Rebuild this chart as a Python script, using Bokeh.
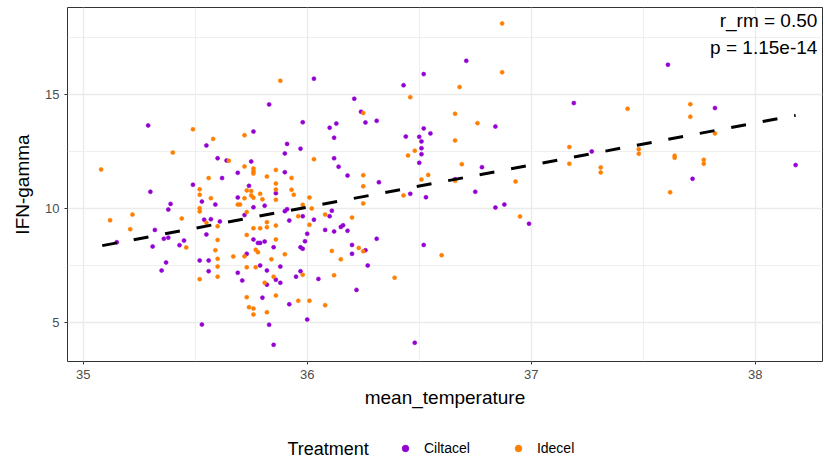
from bokeh.plotting import figure
from bokeh.models import Range1d, FixedTicker, Legend, LegendItem, Label
from bokeh.layouts import column
from bokeh.embed import file_html
from bokeh.resources import INLINE

# ---- data ----
cilta_temp = [35.29, 35.55, 35.60, 35.64, 35.62, 35.49, 35.30, 35.53, 35.59, 35.39,
              35.38, 35.32, 35.36, 35.38, 35.31, 35.45, 35.43, 35.37, 35.35, 35.15,
              35.54, 35.57, 35.61, 35.55, 35.52, 35.56, 35.56, 35.53, 35.83, 35.98,
              35.76, 35.91, 35.97, 35.90, 35.75, 35.69, 35.90, 35.74, 35.69, 35.86,
              35.76, 35.81, 35.91, 35.90, 35.72, 36.03, 35.92, 35.98, 36.03, 36.00,
              35.99, 35.97, 35.98, 35.76, 35.78, 35.79, 35.81, 35.85, 35.73, 35.79,
              35.88, 35.82, 35.69, 35.71, 35.86, 35.88, 35.82, 35.95, 35.97, 36.05,
              35.80, 35.92, 36.00, 35.83, 35.85, 36.52, 36.43, 36.21, 36.24, 36.26,
              36.31, 36.10, 36.13, 36.12, 36.44, 36.50, 36.52, 36.55, 36.51, 36.51,
              36.51, 36.50, 36.12, 36.14, 36.18, 36.32, 36.46, 36.53, 36.11, 36.10,
              36.71, 36.84, 36.78, 36.75, 36.66, 36.84, 36.88, 36.99, 36.08, 36.12,
              36.15, 36.16, 36.18, 36.31, 36.20, 36.20, 36.26, 36.27, 36.52, 36.22,
              36.48, 37.61, 37.19, 37.82, 37.27, 37.72, 38.18]
cilta_ifng = [13.63, 12.75, 12.19, 12.09, 11.32, 11.03, 10.72, 10.29, 10.16, 10.19,
              9.94, 9.05, 8.66, 8.71, 8.32, 8.58, 8.38, 7.62, 7.27, 8.51,
              9.50, 9.52, 9.42, 8.85, 7.71, 7.71, 7.24, 4.90, 14.55, 13.77,
              13.36, 12.82, 12.61, 12.40, 12.05, 11.55, 11.58, 10.98, 10.47, 10.66,
              10.04, 10.11, 9.96, 9.87, 9.70, 15.68, 9.46, 9.65, 9.50, 8.88,
              8.55, 8.29, 8.22, 8.63, 8.48, 8.48, 8.54, 8.29, 8.00, 7.49,
              7.44, 7.27, 7.17, 6.83, 6.86, 6.73, 6.65, 7.00, 7.24, 6.90,
              6.08, 5.79, 5.12, 4.89, 4.01, 15.88, 15.39, 14.80, 14.23, 13.76,
              13.83, 13.53, 13.71, 13.09, 13.14, 13.13, 13.50, 13.28, 12.93, 12.63,
              12.37, 11.99, 12.19, 11.82, 11.43, 11.14, 10.63, 10.48, 9.89, 9.65,
              16.46, 13.58, 11.80, 10.72, 11.27, 10.03, 10.16, 9.32, 9.05, 8.98,
              9.18, 9.25, 9.01, 8.66, 8.39, 8.00, 8.16, 7.49, 8.39, 6.42,
              4.10, 16.29, 14.61, 14.39, 12.49, 11.29, 11.89]

ide_temp = [35.88, 35.49, 35.58, 35.72, 35.40, 35.65, 36.03, 35.08, 35.72, 35.76,
            35.76, 35.76, 35.86, 35.82, 35.93, 35.56, 35.86, 35.52, 35.73, 35.75,
            35.79, 35.86, 35.93, 35.94, 35.52, 35.57, 35.72, 35.75, 35.76, 35.80,
            35.86, 36.01, 35.69, 35.70, 35.52, 35.52, 35.98, 36.02, 35.73, 35.22,
            35.12, 35.21, 35.44, 35.46, 35.55, 35.60, 35.60, 35.59, 35.60, 35.60,
            35.52, 35.60, 35.67, 35.82, 35.76, 35.79, 35.82, 35.86, 35.96, 36.01,
            35.73, 35.86, 35.77, 35.78, 35.72, 35.84, 35.90, 35.73, 35.77, 35.85,
            35.81, 35.98, 35.73, 35.86, 35.74, 35.76, 35.76, 35.82, 35.96, 36.01,
            36.46, 36.25, 36.48, 36.45, 36.25, 36.25, 36.25, 36.51, 36.54, 36.43,
            36.08, 36.20, 36.87, 36.87, 36.68, 36.66, 36.76, 36.66, 36.69, 36.93,
            36.66, 36.95, 36.23, 36.25, 36.11, 36.15, 36.60, 36.12, 36.39, 36.08,
            37.43, 37.71, 37.71, 37.82, 37.17, 37.17, 37.31, 37.31, 37.48, 37.48,
            37.64, 37.64, 37.77, 37.77, 37.62]
ide_ifng = [15.59, 13.46, 13.04, 13.20, 12.44, 12.08, 12.15, 11.70, 11.83, 11.74,
            11.62, 11.52, 11.68, 11.39, 11.33, 11.32, 11.08, 10.83, 10.78, 10.75,
            10.63, 10.82, 10.81, 10.59, 10.59, 10.44, 10.44, 10.56, 10.46, 10.39,
            10.37, 10.47, 10.16, 10.16, 10.00, 9.86, 10.15, 9.99, 9.83, 9.72,
            9.47, 9.08, 9.55, 8.28, 9.36, 9.21, 8.61, 8.16, 7.78, 7.44,
            6.89, 7.00, 7.88, 9.39, 9.12, 9.12, 9.17, 9.24, 9.65, 9.27,
            8.83, 8.63, 8.18, 8.07, 7.89, 7.76, 7.98, 7.41, 7.41, 7.00,
            6.73, 7.08, 6.10, 6.17, 5.66, 5.60, 5.34, 5.44, 5.94, 5.94,
            14.87, 14.17, 12.52, 12.31, 11.45, 10.96, 10.21, 11.26, 11.46, 10.56,
            9.72, 9.59, 18.10, 15.96, 15.31, 14.14, 13.73, 12.97, 11.93, 11.17,
            11.20, 9.64, 8.26, 8.11, 8.13, 7.76, 7.94, 7.06, 6.95, 5.75,
            14.36, 14.56, 14.01, 13.28, 12.68, 11.95, 11.79, 11.57, 12.59, 12.39,
            12.30, 12.21, 12.12, 11.95, 10.70]

fit_temp = [35.085, 38.18]
fit_ifng = [8.36, 14.07]

x_ticks = [35, 36, 37, 38]
x_minor = [35.5, 36.5, 37.5]
y_ticks = [5, 10, 15]
y_minor = [7.5, 12.5, 17.5]

annot_r = "r_rm = 0.50"
annot_p = "p = 1.15e-14"
legend_title = "Treatment"
groups = ["Ciltacel", "Idecel"]

FONT = "Liberation Sans"
PURPLE = "#9400D3"
ORANGE = "#FF7F00"
COLORS = [PURPLE, ORANGE]

# ---------------- main panel ----------------
p = figure(width=825, height=430, output_backend="svg", toolbar_location=None,
           x_range=Range1d(34.93, 38.30), y_range=Range1d(3.28, 18.80),
           min_border_left=67, min_border_right=3, min_border_top=7, min_border_bottom=69)
p.background_fill_color = "white"
p.border_fill_color = "white"
p.outline_line_color = "#333333"
p.outline_line_width = 1

p.xaxis.ticker = FixedTicker(ticks=x_ticks, minor_ticks=x_minor)
p.yaxis.ticker = FixedTicker(ticks=y_ticks, minor_ticks=y_minor)
for g in (p.xgrid, p.ygrid):
    g.grid_line_color = "#EBEBEB"
    g.grid_line_width = 1.4
    g.minor_grid_line_color = "#EBEBEB"
    g.minor_grid_line_width = 0.8

for ax in (p.xaxis, p.yaxis):
    ax.axis_line_color = None
    ax.major_tick_line_color = "#333333"
    ax.major_tick_out = 3
    ax.major_tick_in = 0
    ax.minor_tick_out = 0
    ax.minor_tick_in = 0
    ax.major_label_text_font = FONT
    ax.major_label_text_font_size = "13px"
    ax.major_label_text_color = "#4D4D4D"
    ax.axis_label_text_font = FONT
    ax.axis_label_text_font_size = "19px"
    ax.axis_label_text_font_style = "normal"
    ax.axis_label_text_color = "black"

p.xaxis.axis_label = "mean_temperature"
p.yaxis.axis_label = "IFN-gamma"
p.xaxis.major_label_standoff = 5
p.xaxis.axis_label_standoff = 5
p.yaxis.major_label_standoff = 5
p.yaxis.axis_label_standoff = 9

r1 = p.scatter(cilta_temp, cilta_ifng, size=4, fill_color=PURPLE, line_color=PURPLE, line_width=0.6)
r2 = p.scatter(ide_temp, ide_ifng, size=4, fill_color=ORANGE, line_color=ORANGE, line_width=0.6)
p.line(fit_temp, fit_ifng, line_color="black", line_width=3, line_dash="15 17")

for txt, yy in ((annot_r, 18.23), (annot_p, 17.05)):
    p.add_layout(Label(x=38.277, y=yy, text=txt, text_align="right", text_baseline="middle",
                       text_font=FONT, text_font_size="19px", text_color="black"))

# ---------------- legend strip (frame aligned with the main panel) ----------------
q = figure(width=825, height=32, output_backend="svg", toolbar_location=None,
           x_axis_type=None, y_axis_type=None,
           x_range=Range1d(0, 1), y_range=Range1d(0, 1),
           min_border=0, min_border_left=0, min_border_right=0,
           min_border_top=0, min_border_bottom=0)
q.outline_line_color = None
q.xgrid.visible = False
q.ygrid.visible = False
q.background_fill_color = "white"
q.border_fill_color = "white"

# legend key renderers: same series, out of this strip's view (only their legend keys show)
series = [(cilta_temp, cilta_ifng), (ide_temp, ide_ifng)]
keys = [q.scatter(sx, sy, size=5, fill_color=c, line_color=c) for (sx, sy), c in zip(series, COLORS)]

q.add_layout(Label(x=220, y=14, x_units="screen", y_units="screen", text=legend_title,
                   text_align="left", text_baseline="middle",
                   text_font=FONT, text_font_size="18px", text_color="black"))

legend = Legend(items=[LegendItem(label=g, renderers=[k]) for g, k in zip(groups, keys)],
                orientation="horizontal", location=(330, 4))
legend.label_text_font = FONT
legend.label_text_font_size = "14px"
legend.label_text_color = "black"
legend.border_line_color = None
legend.background_fill_alpha = 0
legend.glyph_width = 16
legend.glyph_height = 20
legend.label_standoff = 11
legend.spacing = 40
legend.margin = 0
legend.padding = 0
q.add_layout(legend, "center")

open("out.html", "w").write(file_html(column(p, q, spacing=0), INLINE))
